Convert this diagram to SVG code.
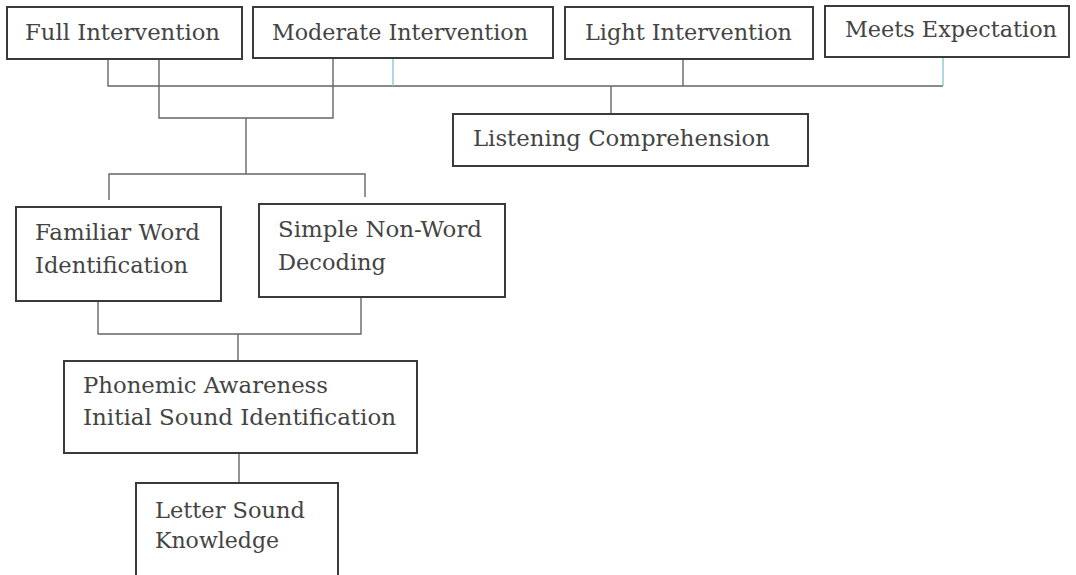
<svg xmlns="http://www.w3.org/2000/svg" width="1076" height="575" viewBox="0 0 1076 575">
<style>
.box{fill:#fff;stroke:#3a3a3a;stroke-width:2}
.t{font-family:"DejaVu Serif","Liberation Serif",serif;font-size:22px;fill:#444}
.c{fill:none;stroke:#666;stroke-width:1.4}
.b{fill:none;stroke:#8fc3e0;stroke-width:1.4}
</style>
<rect width="1076" height="575" fill="#fff"/>
<g id="connectors">
<polyline class="c" points="108,59 108,86 943,86"/>
<line class="b" x1="393" y1="58" x2="393" y2="86"/>
<line class="b" x1="943" y1="57" x2="943" y2="86"/>
<line class="c" x1="683" y1="59" x2="683" y2="86"/>
<line class="c" x1="611" y1="86" x2="611" y2="114"/>
<polyline class="c" points="159,59 159,118 333,118 333,58"/>
<line class="c" x1="246" y1="118" x2="246" y2="174"/>
<polyline class="c" points="109,200 109,174 365,174 365,197"/>
<polyline class="c" points="98,301 98,334 361,334 361,297"/>
<line class="c" x1="238" y1="334" x2="238" y2="361"/>
<line class="c" x1="239" y1="453" x2="239" y2="483"/>
</g>
<g id="full-intervention">
<rect class="box" x="7" y="7" width="235" height="52"/>
<text class="t" x="25" y="40" textLength="195" lengthAdjust="spacingAndGlyphs">Full Intervention</text>
</g>
<g id="moderate-intervention">
<rect class="box" x="253" y="7" width="300" height="51"/>
<text class="t" x="272" y="40" textLength="256" lengthAdjust="spacingAndGlyphs">Moderate Intervention</text>
</g>
<g id="light-intervention">
<rect class="box" x="565" y="7" width="248" height="52"/>
<text class="t" x="585" y="40" textLength="207" lengthAdjust="spacingAndGlyphs">Light Intervention</text>
</g>
<g id="meets-expectation">
<rect class="box" x="825" y="6" width="244" height="51"/>
<text class="t" x="845" y="37" textLength="212" lengthAdjust="spacingAndGlyphs">Meets Expectation</text>
</g>
<g id="listening-comprehension">
<rect class="box" x="453" y="114" width="355" height="52"/>
<text class="t" x="473" y="146" textLength="297" lengthAdjust="spacingAndGlyphs">Listening Comprehension</text>
</g>
<g id="familiar-word">
<rect class="box" x="16" y="207" width="205" height="94"/>
<text class="t" x="35" y="240" textLength="165" lengthAdjust="spacingAndGlyphs">Familiar Word</text>
<text class="t" x="35" y="273" textLength="153" lengthAdjust="spacingAndGlyphs">Identification</text>
</g>
<g id="simple-non-word">
<rect class="box" x="259" y="204" width="246" height="93"/>
<text class="t" x="278" y="237" textLength="204" lengthAdjust="spacingAndGlyphs">Simple Non-Word</text>
<text class="t" x="278" y="270" textLength="108" lengthAdjust="spacingAndGlyphs">Decoding</text>
</g>
<g id="phonemic-awareness">
<rect class="box" x="64" y="361" width="353" height="92"/>
<text class="t" x="83" y="393" textLength="245" lengthAdjust="spacingAndGlyphs">Phonemic Awareness</text>
<text class="t" x="83" y="425" textLength="313" lengthAdjust="spacingAndGlyphs">Initial Sound Identification</text>
</g>
<g id="letter-sound">
<rect class="box" x="136" y="483" width="202" height="95"/>
<text class="t" x="155" y="518" textLength="150" lengthAdjust="spacingAndGlyphs">Letter Sound</text>
<text class="t" x="155" y="548" textLength="124" lengthAdjust="spacingAndGlyphs">Knowledge</text>
</g>
</svg>
